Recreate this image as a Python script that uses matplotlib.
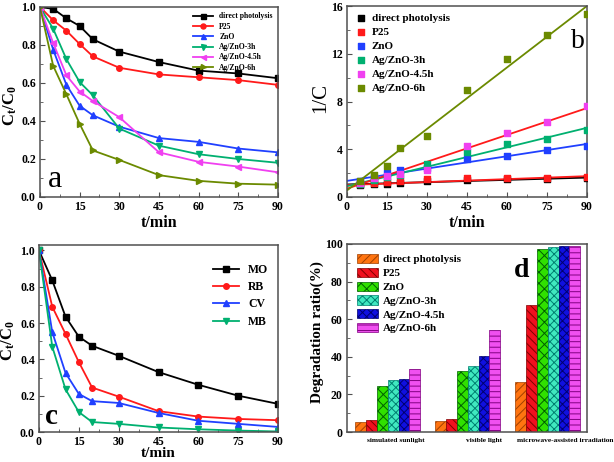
import matplotlib.pyplot as plt
import numpy as np
from matplotlib.ticker import MultipleLocator

plt.rcParams['font.family'] = ['Liberation Serif', 'DejaVu Serif']
plt.rcParams['font.weight'] = 'bold'
plt.rcParams['mathtext.fontset'] = 'custom'
plt.rcParams['mathtext.rm'] = 'Liberation Serif:bold'
plt.rcParams['mathtext.it'] = 'Liberation Serif:bold'
plt.rcParams['mathtext.bf'] = 'Liberation Serif:bold'
plt.rcParams['hatch.linewidth'] = 0.7

# ---- dati ----
t = [0, 5, 10, 15, 20, 30, 45, 60, 75, 90]
campioni = ["direct photolysis", "P25", "ZnO", "Ag/ZnO-3h", "Ag/ZnO-4.5h", "Ag/ZnO-6h"]
colori = ["#000000", "#ff1a1a", "#2040ff", "#00b070", "#f040f0", "#6b8a00"]
marker = ["s", "o", "^", "v", "<", ">"]

# (a) Ct/C0
ct_direct = [1.0, 0.99, 0.94, 0.90, 0.83, 0.765, 0.71, 0.665, 0.65, 0.625]
ct_p25 = [1.0, 0.93, 0.875, 0.805, 0.74, 0.68, 0.645, 0.63, 0.615, 0.59]
ct_zno = [1.0, 0.775, 0.59, 0.48, 0.43, 0.37, 0.31, 0.29, 0.255, 0.235]
ct_3h = [1.0, 0.885, 0.725, 0.605, 0.535, 0.36, 0.27, 0.225, 0.20, 0.18]
ct_45h = [1.0, 0.81, 0.64, 0.555, 0.505, 0.42, 0.235, 0.185, 0.16, 0.13]
ct_6h = [1.0, 0.69, 0.54, 0.385, 0.245, 0.195, 0.115, 0.085, 0.07, 0.065]

# (b) 1/C
tb = [5, 10, 15, 20, 30, 45, 60, 75, 90]
inv_direct = [1.01, 1.06, 1.11, 1.2, 1.3, 1.4, 1.5, 1.54, 1.6]
inv_p25 = [1.07, 1.14, 1.24, 1.35, 1.47, 1.55, 1.59, 1.63, 1.7]
inv_zno = [1.3, 1.7, 2.05, 2.3, 2.4, 3.2, 3.45, 3.95, 4.3]
inv_3h = [1.1, 1.4, 1.65, 1.87, 2.8, 3.75, 4.4, 4.9, 5.6]
inv_45h = [1.2, 1.55, 1.8, 1.95, 2.3, 4.3, 5.4, 6.3, 7.6]
inv_6h = [1.3, 1.87, 2.56, 4.1, 5.1, 9.0, 11.6, 13.6, 15.3]
fit_intercetta = [1.05, 1.0, 1.35, 0.9, 0.7, 0.55]
fit_pendenza = [0.0064, 0.0083, 0.0344, 0.0544, 0.075, 0.1717]
colori_fit = ["#000000", "#ff1a1a", "#2040ff", "#00b070", "#ff1a1a", "#6b8a00"]

# (c) coloranti
coloranti = ["MO", "RB", "CV", "MB"]
col_c = ["#000000", "#ff1a1a", "#2040ff", "#00b070"]
mk_c = ["s", "o", "^", "v"]
mo = [1.0, 0.835, 0.635, 0.525, 0.475, 0.42, 0.33, 0.26, 0.20, 0.155]
rb = [1.0, 0.69, 0.54, 0.385, 0.245, 0.195, 0.115, 0.085, 0.072, 0.065]
cv = [1.0, 0.55, 0.325, 0.21, 0.17, 0.16, 0.105, 0.062, 0.045, 0.028]
mb = [1.0, 0.47, 0.235, 0.11, 0.055, 0.045, 0.025, 0.015, 0.008, 0.003]

# (d) degradazione
condizioni = ["simulated sunlight", "visible light", "microwave-assisted irradiation"]
deg_direct = [5.5, 6.0, 26.5]
deg_p25 = [6.5, 7.0, 67.5]
deg_zno = [24.5, 32.5, 97.5]
deg_3h = [27.5, 35.0, 98.5]
deg_45h = [28.0, 40.5, 99.0]
deg_6h = [33.5, 54.5, 99.0]
col_d = ["#ff7410", "#f0101e", "#30e000", "#40e8c0", "#1010e0", "#f050f0"]
bordo_d = ["#a04000", "#800000", "#006000", "#008070", "#000070", "#800080"]
tratteggio = ["////", "\\\\\\\\", "xxx", "xxxx", "xxxx", "---"]


def stile(ax):
    for s in ax.spines.values():
        s.set_color("#505050")
        s.set_linewidth(1.1)
    ax.tick_params(which="both", direction="in", colors="#505050",
                   labelcolor="black", labelsize=8.5, pad=3)
    ax.tick_params(which="major", length=3.5)
    ax.tick_params(which="minor", length=2)
    for lab in ax.get_xticklabels() + ax.get_yticklabels():
        lab.set_fontweight("bold")


fig = plt.figure(figsize=(6.14, 4.62), dpi=100)
ax_a = fig.add_axes([0.0651, 0.5736, 0.3877, 0.4113])
ax_b = fig.add_axes([0.5651, 0.5736, 0.3909, 0.4134])
ax_c = fig.add_axes([0.0635, 0.0649, 0.3893, 0.4048])
ax_d = fig.add_axes([0.5651, 0.0649, 0.3909, 0.4070])

# a
serie_a = [ct_direct, ct_p25, ct_zno, ct_3h, ct_45h, ct_6h]
for y, nome, c, m in zip(serie_a, campioni, colori, marker):
    ax_a.plot(t, y, color=c, marker=m, markersize=4, linewidth=1.3, label=nome)
ax_a.set_xlim(0, 90)
ax_a.set_ylim(0, 1.0)
ax_a.xaxis.set_major_locator(MultipleLocator(15))
ax_a.xaxis.set_minor_locator(MultipleLocator(7.5))
ax_a.yaxis.set_major_locator(MultipleLocator(0.2))
ax_a.yaxis.set_minor_locator(MultipleLocator(0.1))
ax_a.set_xlabel("t/min", fontsize=11.5, fontweight="bold", labelpad=1)
ax_a.set_ylabel(r"$\mathbf{C_t/C_0}$", fontsize=12)
ax_a.yaxis.set_label_coords(-0.088, 0.48)
ax_a.legend(loc="upper right", frameon=False, fontsize=5.5, handlelength=2.6,
            labelspacing=0.3, borderaxespad=0.3, markerscale=0.9)
ax_a.text(3, 0.053, "a", fontsize=23, fontweight="normal")
stile(ax_a)

# b
serie_b = [inv_direct, inv_p25, inv_zno, inv_3h, inv_45h, inv_6h]
xx = np.array([0, 90])
for y, nome, c, cf, q, k in zip(serie_b, campioni, colori, colori_fit,
                                fit_intercetta, fit_pendenza):
    ax_b.scatter(tb, y, color=c, marker="s", s=14, label=nome, zorder=3)
    ax_b.plot(xx, q + k * xx, color=cf, linewidth=1.3)
ax_b.set_xlim(0, 90)
ax_b.set_ylim(0, 16)
ax_b.xaxis.set_major_locator(MultipleLocator(15))
ax_b.xaxis.set_minor_locator(MultipleLocator(7.5))
ax_b.yaxis.set_major_locator(MultipleLocator(4))
ax_b.yaxis.set_minor_locator(MultipleLocator(2))
ax_b.set_xlabel("t/min", fontsize=11.5, fontweight="bold", labelpad=1)
ax_b.set_ylabel("1/C", fontsize=15, fontweight="normal")
ax_b.yaxis.set_label_coords(-0.068, 0.52)
ax_b.legend(loc="upper left", frameon=False, fontsize=8, handlelength=1.2,
            labelspacing=0.38, borderaxespad=0.25, handletextpad=0.4)
ax_b.text(84, 12.5, "b", fontsize=20, fontweight="normal")
stile(ax_b)

# c
serie_c = [mo, rb, cv, mb]
for y, nome, c, m in zip(serie_c, coloranti, col_c, mk_c):
    ax_c.plot(t, y, color=c, marker=m, markersize=4, linewidth=1.3, label=nome)
ax_c.set_xlim(0, 90)
ax_c.set_ylim(0, 1.03)
ax_c.xaxis.set_major_locator(MultipleLocator(15))
ax_c.xaxis.set_minor_locator(MultipleLocator(7.5))
ax_c.yaxis.set_major_locator(MultipleLocator(0.2))
ax_c.yaxis.set_minor_locator(MultipleLocator(0.1))
ax_c.set_xlabel("t/min", fontsize=11, fontweight="bold", labelpad=-1)
ax_c.set_ylabel(r"$\mathbf{C_t/C_0}$", fontsize=12)
ax_c.yaxis.set_label_coords(-0.09, 0.49)
ax_c.legend(loc="upper right", bbox_to_anchor=(1.0, 0.95), frameon=False,
            fontsize=8.5, handlelength=2.2, labelspacing=0.45, borderaxespad=0.4)
ax_c.text(2.3, 0.044, "c", fontsize=21, fontweight="bold")
stile(ax_c)

# d
serie_d = [deg_direct, deg_p25, deg_zno, deg_3h, deg_45h, deg_6h]
pos = np.arange(1, 4)
w = 0.135
for i, (y, nome) in enumerate(zip(serie_d, campioni)):
    ax_d.bar(pos + (i - 2.5) * w, y, width=w, color=col_d[i], edgecolor=bordo_d[i],
             linewidth=0.5, hatch=tratteggio[i], label=nome)
ax_d.set_xlim(0.49, 3.49)
ax_d.set_ylim(0, 100)
ax_d.set_xticks([1.1, 2.2, 3.22])
ax_d.set_xticklabels(condizioni)
ax_d.yaxis.set_major_locator(MultipleLocator(20))
ax_d.yaxis.set_minor_locator(MultipleLocator(10))
ax_d.set_ylabel("Degradation ratio(%)", fontsize=11, fontweight="bold")
ax_d.yaxis.set_label_coords(-0.094, 0.53)
ax_d.legend(loc="upper left", frameon=False, fontsize=8, handlelength=1.9,
            handleheight=0.9, labelspacing=0.3, borderaxespad=0.5, handletextpad=0.4)
ax_d.text(2.58, 82.4, "d", fontsize=20)
stile(ax_d)
ax_d.tick_params(axis="x", which="both", length=0, labelsize=5.3, pad=4)

fig.savefig("out.png", dpi=100)
